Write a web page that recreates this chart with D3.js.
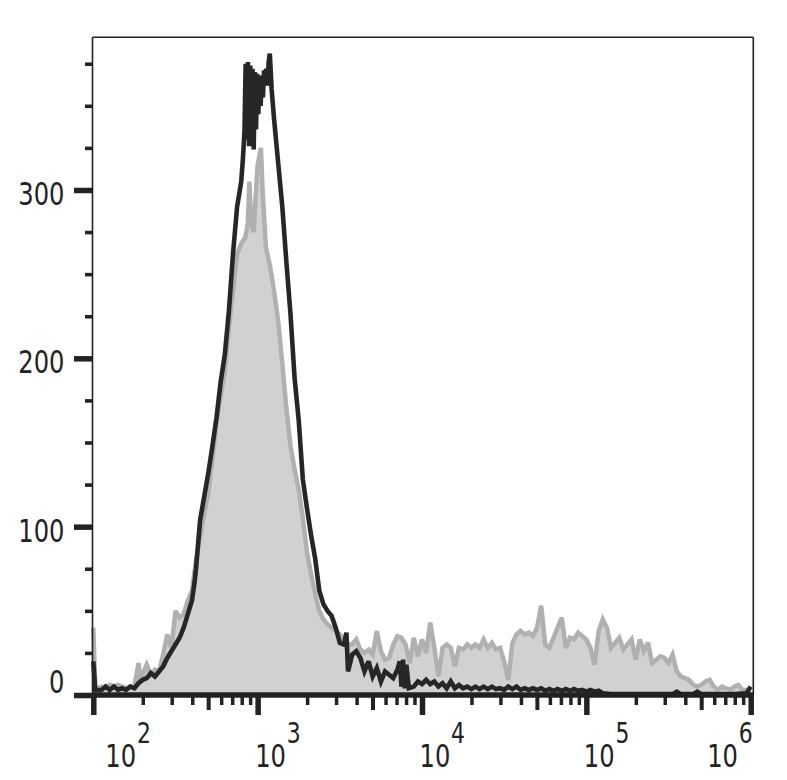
<!DOCTYPE html>
<html>
<head>
<meta charset="utf-8">
<script src="https://cdn.jsdelivr.net/npm/d3@7"></script>
<style>
  html, body { margin: 0; padding: 0; background: #ffffff; }
  svg { display: block; }
  .lbl { font-family: "DejaVu Sans Condensed", "DejaVu Sans", sans-serif; fill: #222222; }
</style>
</head>
<body>
<svg id="chart" width="787" height="780"></svg>
<script>
// ---- data (x in log10 fluorescence units, y = event count) ----
const blackLog = [
  2.000,2.012,2.025,2.050,2.075,2.100,2.125,2.150,2.175,2.200,
  2.225,2.250,2.275,2.300,2.325,2.350,2.375,2.400,2.425,2.450,
  2.475,2.500,2.525,2.550,2.575,2.600,2.615,2.625,2.650,2.675,
  2.700,2.725,2.750,2.775,2.800,2.825,2.850,2.875,2.900,2.910,
  2.920,2.927,2.934,2.941,2.948,2.955,2.962,2.969,2.976,2.983,
  2.990,2.997,3.004,3.011,3.018,3.025,3.032,3.039,3.046,3.053,
  3.060,3.067,3.074,3.085,3.100,3.125,3.150,3.175,3.200,3.225,
  3.250,3.275,3.300,3.325,3.350,3.375,3.400,3.425,3.450,3.475,
  3.500,3.525,3.540,3.550,3.575,3.600,3.625,3.650,3.675,3.700,
  3.725,3.750,3.775,3.800,3.825,3.850,3.865,3.875,3.885,3.895,
  3.905,3.920,3.950,3.975,4.000,4.025,4.050,4.075,4.100,4.125,
  4.150,4.175,4.200,4.225,4.250,4.275,4.300,4.325,4.350,4.375,
  4.400,4.425,4.450,4.475,4.500,4.525,4.550,4.575,4.600,4.625,
  4.650,4.675,4.700,4.725,4.750,4.775,4.800,4.825,4.850,4.875,
  4.900,4.925,4.950,4.975,5.000,5.025,5.050,5.075,5.100,5.150,
  5.250,5.350,5.450,5.525,5.550,5.575,5.650,5.675,5.700,5.800,
  5.900,5.975,6.000
];
const blackCount = [
  20,3,3,3,5,3,5,3,4,3,
  5,4,7,9,10,13,11,14,17,22,
  26,30,34,40,48,56,66,75,104,118,
  132,148,165,186,202,228,262,290,305,318,
  335,375,330,376,326,374,332,372,324,370,
  336,369,345,368,350,365,355,371,368,372,
  362,376,381,360,342,316,290,257,226,188,
  163,128,111,95,81,62,54,50,47,40,
  31,30,37,14,24,26,22,14,20,11,
  16,8,14,12,10,15,20,5,21,4,
  18,4,5,8,6.5,9,6.5,8,5,7,
  4,8,4,6,4,5,3.5,5,3.5,5,
  3.5,5,3.5,4,3,5,3.5,5,3,4,
  3,4,3,4,2.5,3.5,2.5,3.5,2.5,3.5,
  2.5,3.5,2.5,3,2,3,2,2.5,1,0.5,
  0.5,0.5,0.5,0.5,2,0.5,0.5,2,0.5,0.5,
  0.5,1,5
];
const greyLog = [
  2.000,2.012,2.025,2.050,2.075,2.100,2.125,2.150,2.175,2.200,
  2.225,2.250,2.275,2.290,2.300,2.325,2.350,2.375,2.400,2.425,
  2.450,2.475,2.500,2.525,2.550,2.575,2.600,2.625,2.650,2.675,
  2.700,2.725,2.750,2.775,2.800,2.825,2.850,2.875,2.900,2.925,
  2.940,2.950,2.960,2.975,2.990,3.000,3.010,3.020,3.030,3.050,
  3.075,3.100,3.125,3.150,3.175,3.200,3.225,3.250,3.275,3.300,
  3.325,3.350,3.375,3.400,3.425,3.450,3.475,3.500,3.525,3.550,
  3.575,3.600,3.625,3.650,3.675,3.700,3.725,3.750,3.775,3.800,
  3.825,3.850,3.875,3.900,3.925,3.950,3.975,4.000,4.025,4.050,
  4.075,4.100,4.125,4.150,4.175,4.200,4.225,4.250,4.275,4.300,
  4.325,4.350,4.375,4.400,4.425,4.450,4.475,4.500,4.525,4.550,
  4.575,4.600,4.625,4.650,4.675,4.700,4.725,4.750,4.775,4.800,
  4.825,4.850,4.875,4.900,4.925,4.950,4.975,5.000,5.025,5.050,
  5.075,5.100,5.125,5.150,5.175,5.200,5.225,5.250,5.275,5.300,
  5.325,5.350,5.375,5.400,5.425,5.450,5.475,5.500,5.525,5.550,
  5.575,5.600,5.625,5.650,5.675,5.700,5.725,5.750,5.775,5.800,
  5.825,5.850,5.875,5.900,5.925,5.950,5.975,6.000
];
const greyCount = [
  40,5,4,5,4,6,5,6,5,4,
  5,5,19,8,12,18,12,15,14,24,
  36,28,50,46,48,56,62,80,94,108,
  120,140,162,178,192,218,240,262,268,272,
  280,305,280,275,300,315,320,325,300,266,
  255,240,222,197,170,148,134,122,105,85,
  72,60,50,45,42,40,38,36,33,30,
  30,33,27,25,27,24,38,26,21,22,
  30,35,34,30,19,34,23,33,25,43,
  28,11,28,30,28,17,28,27,30,28,
  30,28,33,28,31,27,28,20,9,31,
  36,38,36,37,35,40,53,30,28,34,
  40,46,28,34,33,37,35,33,28,18,
  38,45,40,28,31,34,27,30,33,21,
  33,26,31,19,21,23,22,19,24,14,
  11,10,9,6,5,6,8,9,5,3,
  5,4,3,5,6,3,3,3
];
const xDecades = [2, 3, 4, 5, 6];
const yMajorTicks = [0, 100, 200, 300];
const yMinorTicks = [25, 50, 75, 125, 150, 175, 225, 250, 275, 325, 350, 375];
const yMax = 390.7;

(function () {
  const svg = d3.select("#chart");
  const pLeft = 93.3, pRight = 750.7, pTop = 37.3, pBottom = 695;
  const frameRight = 753.3, frameLeft = 92.5;
  const squeeze = 0.84;

  const x = d3.scaleLog().domain([1e2, 1e6]).range([pLeft, pRight]);
  const y = d3.scaleLinear().domain([0, yMax]).range([pBottom, pTop]);

  svg.append("rect").attr("width", 787).attr("height", 780).attr("fill", "#ffffff");

  const grey = greyLog.map((L, i) => ({ v: Math.pow(10, L), c: greyCount[i] }));
  const black = blackLog.map((L, i) => ({ v: Math.pow(10, L), c: blackCount[i] }));

  svg.append("path")
    .datum(grey)
    .attr("d", d3.area().x(d => x(d.v)).y0(y(0)).y1(d => y(d.c)))
    .attr("fill", "#d1d1d1");
  svg.append("path")
    .datum(grey)
    .attr("d", d3.line().x(d => x(d.v)).y(d => y(d.c)))
    .attr("fill", "none")
    .attr("stroke", "#b0b0b0")
    .attr("stroke-width", 4.5)
    .attr("stroke-linejoin", "miter")
    .attr("stroke-miterlimit", 3);

  svg.append("path")
    .datum(black)
    .attr("d", d3.line().x(d => x(d.v)).y(d => y(d.c)))
    .attr("fill", "none")
    .attr("stroke", "#262626")
    .attr("stroke-width", 4.6)
    .attr("stroke-linejoin", "miter")
    .attr("stroke-miterlimit", 3);

  const frame = svg.append("g").attr("stroke", "#222222").attr("stroke-width", 1.6).attr("fill", "none");
  frame.append("line").attr("x1", frameLeft).attr("x2", frameLeft).attr("y1", pTop).attr("y2", pBottom);
  frame.append("line").attr("x1", frameRight).attr("x2", frameRight).attr("y1", pTop).attr("y2", pBottom);
  frame.append("line").attr("x1", frameLeft).attr("x2", frameRight).attr("y1", pTop).attr("y2", pTop);

  const majorX = xDecades.map(e => Math.pow(10, e));
  const midX = [], minorX = [];
  xDecades.slice(0, -1).forEach(e => {
    [2, 3, 4, 5, 6, 7, 8, 9].forEach(m => {
      const v = m * Math.pow(10, e);
      if (m === 5) midX.push(v); else minorX.push(v);
    });
  });
  function styleAxis(g, w) {
    g.select(".domain").remove();
    g.selectAll(".tick line").attr("stroke", "#222222").attr("stroke-width", w);
    g.selectAll(".tick text").remove();
  }
  svg.append("g").attr("transform", `translate(0,${pBottom})`)
    .call(d3.axisBottom(x).tickValues(minorX).tickSize(10).tickFormat(""))
    .call(g => styleAxis(g, 3.5));
  svg.append("g").attr("transform", `translate(0,${pBottom})`)
    .call(d3.axisBottom(x).tickValues(midX).tickSize(15).tickFormat(""))
    .call(g => styleAxis(g, 4));
  svg.append("g").attr("transform", `translate(0,${pBottom})`)
    .call(d3.axisBottom(x).tickValues(majorX).tickSize(20).tickFormat(""))
    .call(g => styleAxis(g, 5.5));

  svg.append("line")
    .attr("x1", frameLeft).attr("x2", frameRight + 0.5)
    .attr("y1", pBottom).attr("y2", pBottom)
    .attr("stroke", "#222222").attr("stroke-width", 5.5);

  svg.append("g").attr("transform", `translate(${frameLeft},0)`)
    .call(d3.axisLeft(y).tickValues(yMinorTicks).tickSize(7.5).tickFormat(""))
    .call(g => styleAxis(g, 3.6));
  svg.append("g").attr("transform", `translate(${frameLeft},0)`)
    .call(d3.axisLeft(y).tickValues(yMajorTicks).tickSize(18.5).tickFormat(""))
    .call(g => styleAxis(g, 5.5));

  svg.append("g").selectAll("text")
    .data(yMajorTicks)
    .join("text")
    .attr("class", "lbl")
    .attr("transform", d => `translate(64.5,${d === 0 ? y(d) - 2 : y(d) + 15}) scale(${squeeze},1)`)
    .attr("text-anchor", "end")
    .attr("font-size", 32)
    .text(d => d);

  const xl = svg.append("g");
  xDecades.forEach((e, i) => {
    const px = x(Math.pow(10, e));
    const isFirst = i === 0, isLast = i === xDecades.length - 1;
    const ax = isLast ? px + 2 : (isFirst ? px + 12 : px - 2.5);
    const t = xl.append("text").attr("class", "lbl")
      .attr("font-size", 32)
      .attr("transform", `translate(${ax},767) scale(${squeeze},1)`)
      .attr("text-anchor", isLast ? "end" : "start");
    t.append("tspan").text("10");
    t.append("tspan").attr("font-size", 29).attr("dy", -24).attr("dx", 1).text(e);
  });
})();
</script>
</body>
</html>
